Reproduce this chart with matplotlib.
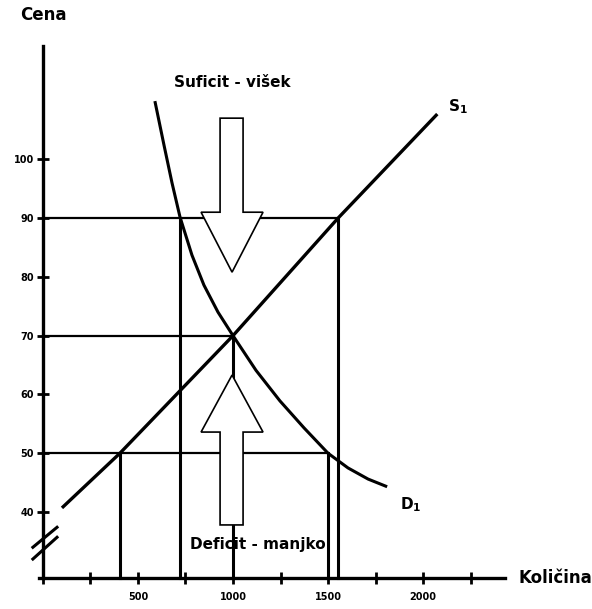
import matplotlib.pyplot as plt
from matplotlib.patches import Polygon

# tick values
x_ticks = [0, 250, 500, 750, 1000, 1250, 1500, 1750, 2000, 2250]
x_tick_labels = ['', '', '500', '', '1000', '', '1500', '', '2000', '']
y_ticks = [40, 50, 60, 70, 80, 90, 100]
y_tick_labels = ['40', '50', '60', '70', '80', '90', '100']

# supply S1
supply_q = [100, 405, 1000, 1553, 2075]
supply_p = [40.7, 50, 70, 90, 107.7]

# demand D1
demand_q = [589, 637, 679, 721, 784, 847, 921, 1000, 1121, 1247, 1374, 1500, 1605, 1711, 1811]
demand_p = [109.9, 102.4, 96.0, 90.2, 83.7, 78.6, 74.0, 70.0, 64.1, 58.9, 54.3, 50.0, 47.5, 45.6, 44.3]

# price levels and matching quantities
price_high = 90
price_eq = 70
price_low = 50
q_demand_high = 721
q_supply_high = 1553
q_eq = 1000
q_supply_low = 405
q_demand_low = 1500

fig = plt.figure(figsize=(5.92, 6.09), dpi=100)
ax = fig.add_axes([0, 0, 1, 1])
ax.set_xlim(-226, 2889)
ax.set_ylim(23.5, 127.1)

lw_axis = 2.4
ax.spines['top'].set_visible(False)
ax.spines['right'].set_visible(False)
ax.spines['left'].set_position(('data', 0))
ax.spines['bottom'].set_position(('data', 28.8))
ax.spines['left'].set_bounds(28.8, 119.2)
ax.spines['bottom'].set_bounds(-20, 2431)
ax.spines['left'].set_linewidth(lw_axis)
ax.spines['bottom'].set_linewidth(lw_axis)

ax.set_xticks(x_ticks)
ax.set_xticklabels(x_tick_labels, fontsize=7, fontweight='bold')
ax.set_yticks(y_ticks)
ax.set_yticklabels(y_tick_labels, fontsize=7, fontweight='bold')
ax.tick_params(axis='both', direction='inout', length=9, width=2, colors='black')
ax.tick_params(axis='x', pad=6)
ax.tick_params(axis='y', pad=2)

# guide lines
ax.plot([0, q_supply_high], [price_high, price_high], color='black', lw=1.6)
ax.plot([0, q_eq], [price_eq, price_eq], color='black', lw=1.6)
ax.plot([0, q_demand_low], [price_low, price_low], color='black', lw=1.6)
for q, p in [(q_demand_high, price_high), (q_supply_high, price_high),
             (q_eq, price_eq), (q_supply_low, price_low), (q_demand_low, price_low)]:
    ax.plot([q, q], [28.8, p], color='black', lw=2.2)

# curves
ax.plot(supply_q, supply_p, color='black', lw=2.4, solid_capstyle='butt')
ax.plot(demand_q, demand_p, color='black', lw=2.2, solid_capstyle='butt',
        solid_joinstyle='round')

# arrows
down_arrow = [(932, 107), (1053, 107), (1053, 91), (1158, 91),
              (995, 80.8), (832, 91), (932, 91)]
up_arrow = [(932, 37.8), (1053, 37.8), (1053, 53.6), (1158, 53.6),
            (995, 63.3), (832, 53.6), (932, 53.6)]
for pts in (down_arrow, up_arrow):
    ax.add_patch(Polygon(pts, closed=True, facecolor='white',
                         edgecolor='black', lw=1.2, zorder=5))

# axis break marks
ax.plot([-53, 74], [34.0, 37.4], color='black', lw=2.2)
ax.plot([-53, 74], [32.0, 35.7], color='black', lw=2.2)

# texts
ax.text(0, 126.0, 'Cena', fontsize=12, fontweight='bold', ha='center', va='top')
ax.text(2500, 28.8, 'Količina', fontsize=12, fontweight='bold', ha='left', va='center')
ax.text(995, 113.1, 'Suficit - višek', fontsize=11, fontweight='bold', ha='center', va='center')
ax.text(1132, 34.4, 'Deficit - manjko', fontsize=11, fontweight='bold', ha='center', va='center', zorder=6)
ax.text(2130, 109.0, r'S$_\mathbf{1}$', fontsize=11, fontweight='bold', ha='left', va='center')
ax.text(1880, 41.3, r'D$_\mathbf{1}$', fontsize=11, fontweight='bold', ha='left', va='center')

fig.savefig('out.png', dpi=100)
